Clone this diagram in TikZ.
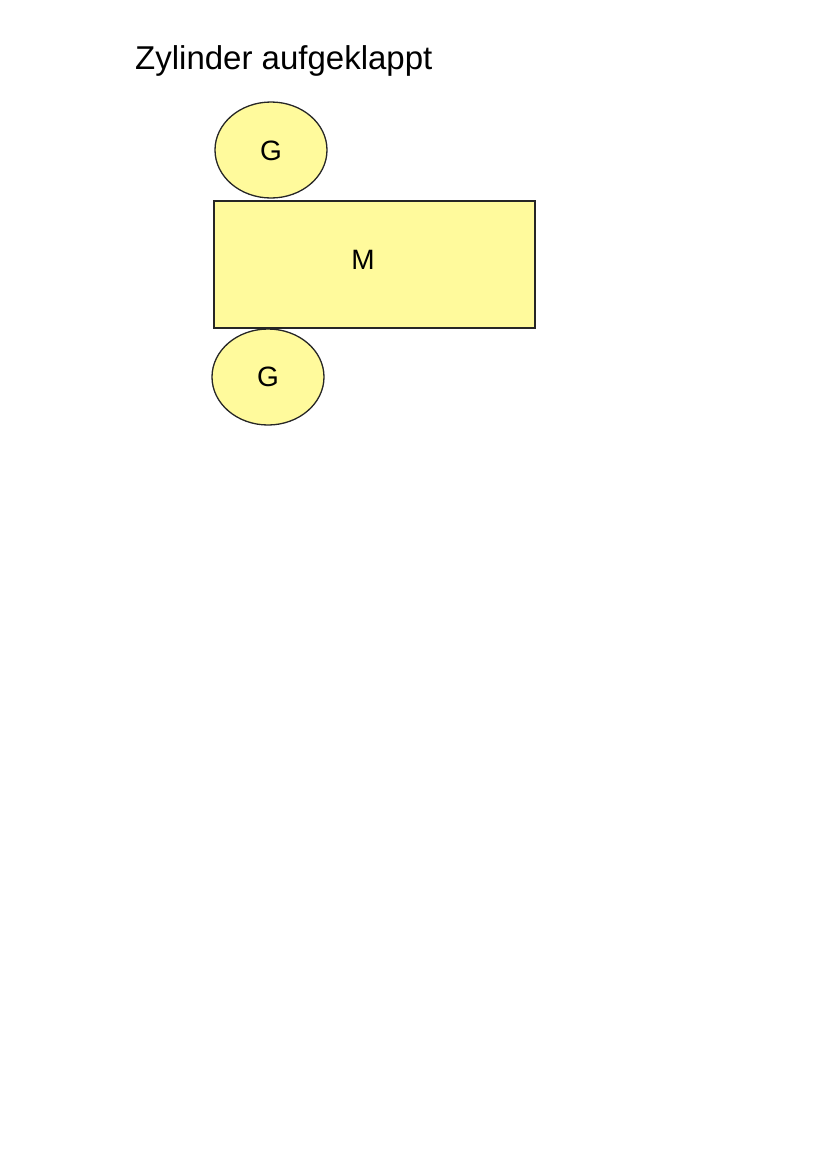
\documentclass[tikz,border=0pt]{standalone}
\usepackage{fontspec}
\setmainfont{Liberation Sans}
\usetikzlibrary{shapes.geometric}
\definecolor{fillY}{HTML}{FFFA9C}
\begin{document}
\begin{tikzpicture}[x=1pt,y=-1pt,
  face/.style={draw=black!85,line width=1.3pt,fill=fillY},
  lbl/.style={font=\fontsize{28}{30}\selectfont}]
\useasboundingbox[fill=white] (0,0) rectangle (828,1171);
\node[anchor=base west,font=\fontsize{33}{36}\selectfont,inner sep=0pt] (title) at (135,69) {Zylinder aufgeklappt};
\node[face,ellipse,minimum width=112pt,minimum height=96pt,inner sep=0pt] (gtop) at (271,150) {};
\node[face,rectangle,minimum width=321pt,minimum height=127pt,inner sep=0pt] (m) at (374.5,264.5) {};
\node[face,ellipse,minimum width=112pt,minimum height=96pt,inner sep=0pt] (gbot) at (268,377) {};
\node[lbl] (g1) at (271,151) {G};
\node[lbl] (ml) at (363,260) {M};
\node[lbl] (g2) at (268,377) {G};
\end{tikzpicture}
\end{document}
